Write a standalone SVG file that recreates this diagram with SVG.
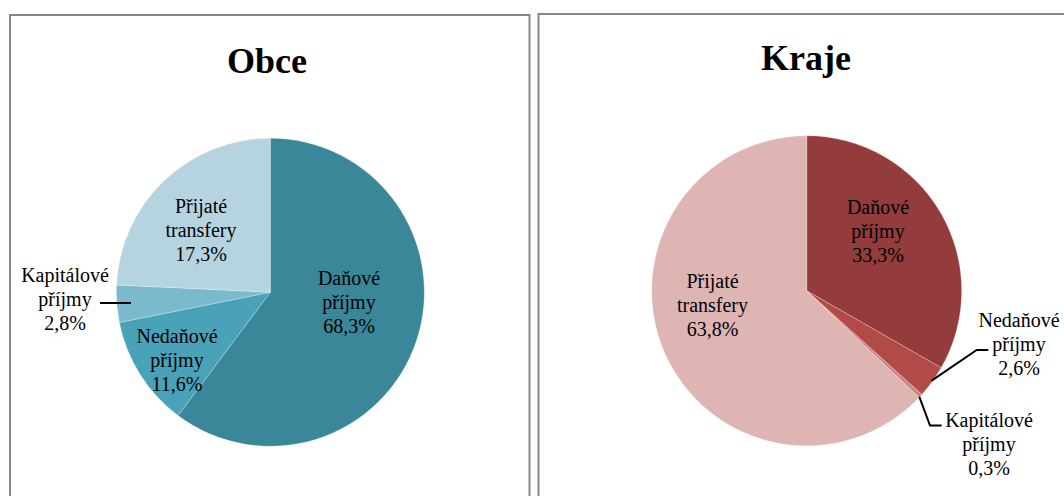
<svg xmlns="http://www.w3.org/2000/svg" width="1064" height="496" viewBox="0 0 1064 496">
  <style>
    .frame { fill: #ffffff; stroke: #878787; stroke-width: 2; }
    .title { font-family: "Liberation Serif", "Times New Roman", serif; font-size: 36px; font-weight: bold; fill: #000; text-anchor: middle; }
    .lbl { font-family: "Liberation Serif", Tinos, "Times New Roman", "DejaVu Serif Condensed", "DejaVu Serif", serif; font-size: 20px; font-weight: normal; font-style: normal; fill: #000; text-anchor: middle; }
    .slice { stroke: #ffffff; stroke-opacity: 0.35; stroke-width: 0.75; }
    .leader { fill: none; stroke: #000; stroke-width: 2; }
  </style>

  <rect width="1064" height="496" fill="#ffffff"/>

  <!-- Municipalities chart -->
  <g id="chart-obce">
    <rect class="frame" x="10" y="15" width="519.5" height="500"/>
    <text class="title" x="267" y="73">Obce</text>
    <g id="obce-danove">
      <path class="slice" fill="#3a8799" d="M270.3 292.2 L270.3 138.2 A154 154 0 1 1 178.05 415.5 Z"/>
      <text class="lbl" x="349" y="285">Daňové</text>
      <text class="lbl" x="349" y="309">příjmy</text>
      <text class="lbl" x="349" y="333">68,3%</text>
    </g>
    <g id="obce-nedanove">
      <path class="slice" fill="#4aa2b8" d="M270.3 292.2 L178.05 415.5 A154 154 0 0 1 119.32 322.51 Z"/>
      <text class="lbl" x="177" y="343">Nedaňové</text>
      <text class="lbl" x="177" y="367">příjmy</text>
      <text class="lbl" x="177" y="391">11,6%</text>
    </g>
    <g id="obce-kapitalove">
      <path class="slice" fill="#7bb9cd" d="M270.3 292.2 L119.32 322.51 A154 154 0 0 1 116.47 284.95 Z"/>
      <text class="lbl" x="65" y="282">Kapitálové</text>
      <text class="lbl" x="65" y="306">příjmy</text>
      <text class="lbl" x="65" y="330">2,8%</text>
    </g>
    <g id="obce-transfery">
      <path class="slice" fill="#b6d4df" d="M270.3 292.2 L116.47 284.95 A154 154 0 0 1 270.3 138.2 Z"/>
      <text class="lbl" x="201" y="213">Přijaté</text>
      <text class="lbl" x="201" y="237">transfery</text>
      <text class="lbl" x="201" y="261">17,3%</text>
    </g>
  </g>

  <!-- Regions chart -->
  <g id="chart-kraje">
    <rect class="frame" x="538.5" y="14" width="540" height="500"/>
    <text class="title" x="806" y="70">Kraje</text>
    <g id="kraje-danove">
      <path class="slice" fill="#943b3b" d="M806.7 290.8 L806.7 135.8 A155 155 0 0 1 941.2 367.83 Z"/>
      <text class="lbl" x="878" y="214">Daňové</text>
      <text class="lbl" x="878" y="238">příjmy</text>
      <text class="lbl" x="878" y="262">33,3%</text>
    </g>
    <g id="kraje-nedanove">
      <path class="slice" fill="#b24a47" d="M806.7 290.8 L941.2 367.83 A155 155 0 0 1 921.89 394.52 Z"/>
      <text class="lbl" x="1019" y="327">Nedaňové</text>
      <text class="lbl" x="1019" y="351">příjmy</text>
      <text class="lbl" x="1019" y="375">2,6%</text>
    </g>
    <g id="kraje-kapitalove">
      <path class="slice" fill="#cb8583" d="M806.7 290.8 L921.89 394.52 A155 155 0 0 1 919.13 397.49 Z"/>
      <text class="lbl" x="989" y="427">Kapitálové</text>
      <text class="lbl" x="989" y="451">příjmy</text>
      <text class="lbl" x="989" y="475">0,3%</text>
    </g>
    <g id="kraje-transfery">
      <path class="slice" fill="#dfb5b4" d="M806.7 290.8 L919.13 397.49 A155 155 0 1 1 806.7 135.8 Z"/>
      <text class="lbl" x="712.5" y="288">Přijaté</text>
      <text class="lbl" x="712.5" y="312">transfery</text>
      <text class="lbl" x="712.5" y="336">63,8%</text>
    </g>
  </g>

  <!-- Label leader lines -->
  <g id="connectors">
    <polyline class="leader" points="100,303 131,303"/>
    <polyline class="leader" points="931.7,380.7 976.7,350 988.3,350"/>
    <polyline class="leader" points="919.3,396.7 930,425.5 941.7,425.5"/>
  </g>
</svg>
